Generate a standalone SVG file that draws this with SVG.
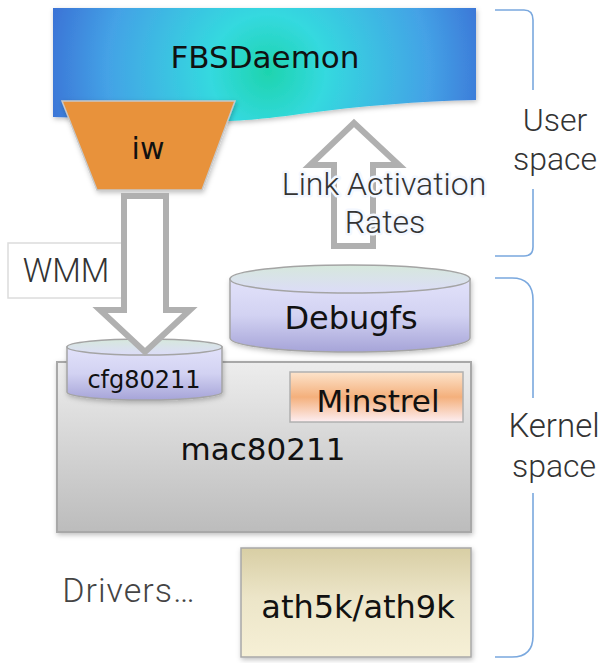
<svg xmlns="http://www.w3.org/2000/svg" width="603" height="663" viewBox="0 0 603 663">
<defs>
<radialGradient id="gBanner" gradientUnits="userSpaceOnUse" cx="268" cy="72" r="230">
<stop offset="0" stop-color="#1ed4ae"/>
<stop offset="0.25" stop-color="#34d9df"/>
<stop offset="0.7" stop-color="#44a2e6"/>
<stop offset="1" stop-color="#3a6ed4"/>
</radialGradient>
<linearGradient id="gCyl" x1="0" y1="0" x2="0" y2="1">
<stop offset="0" stop-color="#e2e2fa"/>
<stop offset="0.5" stop-color="#d2d2f2"/>
<stop offset="1" stop-color="#a6a4d8"/>
</linearGradient>
<linearGradient id="gCylTop" x1="0" y1="0" x2="0" y2="1">
<stop offset="0" stop-color="#d6e8dc"/>
<stop offset="1" stop-color="#dcdcf8"/>
</linearGradient>
<linearGradient id="gMac" x1="0" y1="0" x2="0" y2="1">
<stop offset="0" stop-color="#ededed"/>
<stop offset="1" stop-color="#bcbcbc"/>
</linearGradient>
<linearGradient id="gMin" x1="0" y1="0" x2="0" y2="1">
<stop offset="0" stop-color="#fde4cc"/>
<stop offset="0.5" stop-color="#f4b07c"/>
<stop offset="1" stop-color="#fdeef2"/>
</linearGradient>
<linearGradient id="gAth" x1="0" y1="0" x2="0" y2="1">
<stop offset="0" stop-color="#d8cea4"/>
<stop offset="0.45" stop-color="#ece5c8"/>
<stop offset="1" stop-color="#f6f0d6"/>
</linearGradient>
<filter id="sh" x="-10%" y="-10%" width="125%" height="130%">
<feDropShadow dx="1" dy="2" stdDeviation="2.5" flood-color="#000" flood-opacity="0.25"/>
</filter>
</defs>
<style>
.dark{font-family:"DejaVu Sans","Liberation Sans",sans-serif;fill:#111;text-anchor:middle}
.light{font-family:Roboto,"Liberation Sans",sans-serif;font-weight:300;fill:#333;text-anchor:middle}
.arrow{fill:#fff;stroke:#b0b0b0;stroke-width:6;stroke-linejoin:miter}
.brk{fill:none;stroke:#7aa8de;stroke-width:1.6}
.cyl{stroke:#a4a4a4;stroke-width:1.5}
.halo{stroke:#f4f8ff;stroke-width:5;paint-order:stroke;stroke-linejoin:round}
</style>

<g id="fbsdaemon">
<path d="M53,8 H476 V100 C420,101 360,106 300,114 C265,119 240,121 220,121 C150,121 100,118 53,117 Z" fill="url(#gBanner)" filter="url(#sh)"/>
<text class="dark" x="265" y="68" font-size="31">FBSDaemon</text>
</g>

<g id="iw">
<polygon points="62,101 235,101 202,190 97,190" fill="#e8923a" stroke="#c8c8c8" stroke-width="1.5" filter="url(#sh)"/>
<text class="dark" x="148" y="159" font-size="30">iw</text>
</g>

<g id="wmm">
<rect x="8" y="243" width="122" height="55" fill="#fff" stroke="#dcdcdc" stroke-width="1.5"/>
<text class="light" x="66" y="282" font-size="33">WMM</text>
</g>

<g id="mac80211">
<rect x="57" y="362" width="414" height="170" fill="url(#gMac)" stroke="#a8a8a8" stroke-width="2" filter="url(#sh)"/>
<text class="dark" x="263" y="460" font-size="31">mac80211</text>
</g>

<g id="cfg80211">
<path class="cyl" d="M67,347 V392 A77.5,8 0 0 0 222,392 V347 Z" fill="url(#gCyl)" filter="url(#sh)"/>
<ellipse class="cyl" cx="144.5" cy="347" rx="77.5" ry="8" fill="url(#gCylTop)"/>
<text class="dark" x="144" y="388" font-size="24">cfg80211</text>
</g>

<g id="minstrel">
<rect x="290" y="372" width="173" height="50" fill="url(#gMin)" stroke="#b0b0b0" stroke-width="1.5"/>
<text class="dark" x="378" y="412" font-size="31">Minstrel</text>
</g>

<g id="debugfs">
<path class="cyl" d="M230,279 V338 A120,14 0 0 0 470,338 V279 Z" fill="url(#gCyl)" filter="url(#sh)"/>
<ellipse class="cyl" cx="350" cy="279" rx="120" ry="14" fill="url(#gCylTop)"/>
<text class="dark" x="351" y="329" font-size="32">Debugfs</text>
</g>

<g id="ath">
<rect x="241" y="548" width="230" height="109" fill="url(#gAth)" stroke="#a8a8a8" stroke-width="1.5" filter="url(#sh)"/>
<text class="dark" x="358" y="618" font-size="32">ath5k/ath9k</text>
</g>

<g id="drivers">
<text class="light" x="129" y="602" font-size="34" letter-spacing="1" style="fill:#444">Drivers…</text>
</g>

<g id="connectors">
<path class="arrow" d="M124,196 H166 V310 H190 L145,352 L100,310 H124 Z"/>
<path class="arrow" d="M354,123 L399,165 H373 V246 H334 V165 H310 Z"/>
<path class="brk" d="M495,10 H524 Q533,10 533,20 V90 M533,189 V247 Q533,256 524,256 H495"/>
<path class="brk" d="M495,278 H512 Q533,278 533,300 V398 M533,493 V636 Q533,657 512,657 H495"/>
</g>

<g id="labels">
<text class="light halo" x="384" y="195" font-size="32">Link Activation</text>
<text class="light halo" x="385" y="233" font-size="32">Rates</text>
<text class="light" x="555" y="131" font-size="32">User</text>
<text class="light" x="555" y="170" font-size="32">space</text>
<text class="light" x="554" y="437" font-size="33">Kernel</text>
<text class="light" x="554" y="477" font-size="32">space</text>
</g>
</svg>
